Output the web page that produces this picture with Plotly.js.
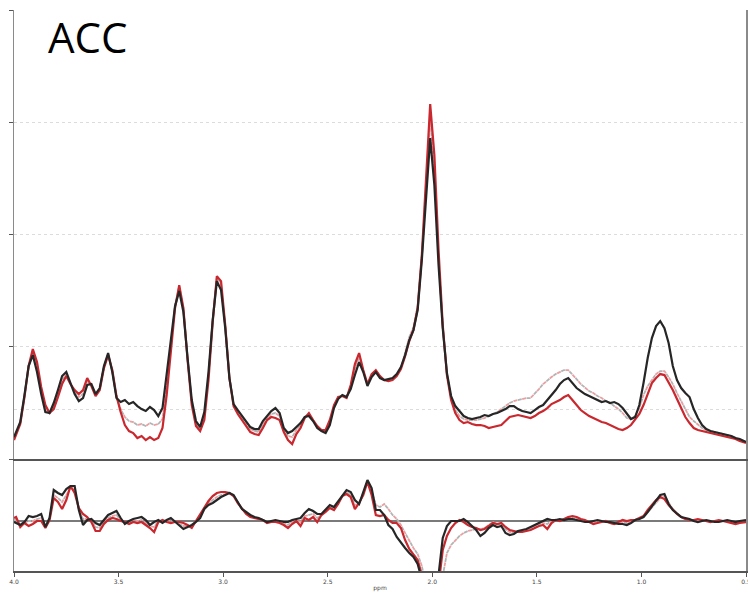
<!DOCTYPE html>
<html>
<head>
<meta charset="utf-8">
<script src="https://cdn.plot.ly/plotly-3.0.1.min.js"></script>
<style>html,body{margin:0;padding:0;background:#fff;}#chart{width:748px;height:597px;}</style>
</head>
<body>
<div id="chart"></div>
<script>
// chemical shift axis (ppm)
var ppm = [4.00,
3.99,3.97,3.95,3.93,3.91,3.89,3.87,3.85,3.83,3.81,
3.79,3.77,3.75,3.73,3.71,3.69,3.67,3.65,3.63,3.61,
3.59,3.57,3.55,3.53,3.51,3.49,3.47,3.45,3.43,3.41,
3.39,3.37,3.35,3.33,3.31,3.29,3.27,3.25,3.23,3.21,
3.19,3.17,3.15,3.13,3.11,3.09,3.07,3.05,3.03,3.01,
2.99,2.97,2.95,2.93,2.91,2.89,2.87,2.85,2.83,2.81,
2.79,2.77,2.75,2.73,2.71,2.69,2.67,2.65,2.63,2.61,
2.59,2.57,2.55,2.53,2.51,2.49,2.47,2.45,2.43,2.41,
2.39,2.37,2.35,2.33,2.31,2.29,2.27,2.25,2.23,2.21,
2.19,2.17,2.15,2.13,2.11,2.09,2.07,2.05,2.03,2.01,
1.99,1.97,1.95,1.93,1.91,1.89,1.87,1.85,1.83,1.81,
1.79,1.77,1.75,1.73,1.71,1.69,1.67,1.65,1.63,1.61,
1.59,1.57,1.55,1.53,1.51,1.49,1.47,1.45,1.43,1.41,
1.39,1.37,1.35,1.33,1.31,1.29,1.27,1.25,1.23,1.21,
1.19,1.17,1.15,1.13,1.11,1.09,1.07,1.05,1.03,1.01,
0.99,0.97,0.95,0.93,0.91,0.89,0.87,0.85,0.83,0.81,
0.79,0.77,0.75,0.73,0.71,0.69,0.67,0.65,0.63,0.61,
0.59,0.57,0.55,0.53,0.51,
0.50];

// upper panel: spectra (a.u.)
var specBlack = [22,
27,37,64,93,104,87,65,47,46,56,
69,83,87,75,65,58,61,74,75,65,
71,93,106,87,61,57,59,55,57,53,
50,48,52,49,43,51,86,119,153,168,
147,101,59,38,32,47,87,139,178,169,
131,81,55,49,43,37,32,30,30,38,
43,48,51,46,31,26,28,32,36,42,
43,38,31,28,26,34,51,60,64,62,
70,84,97,87,73,82,87,81,79,80,
81,85,92,104,119,129,149,199,264,321,
274,194,131,86,63,53,48,43,41,40,
41,42,44,43,45,46,48,50,53,53,
50,48,47,46,49,52,54,59,63,69,
75,79,81,76,71,68,65,63,61,59,
57,58,56,57,55,51,45,40,42,54,
76,101,121,133,138,131,116,93,79,71,
66,62,50,41,34,30,28,27,26,25,
24,23,21,20,18,
17];

var specRed = [19,
25,35,62,93,110,97,72,54,46,50,
62,75,83,75,69,65,69,81,73,63,
69,91,104,89,63,47,34,28,26,21,
23,19,22,19,21,31,64,109,151,174,
151,99,54,33,28,39,79,137,183,178,
134,81,53,45,39,34,27,25,24,31,
39,42,41,39,27,19,15,25,31,41,
46,39,33,29,29,39,54,62,63,61,
74,95,106,89,75,85,89,83,79,78,
79,83,90,103,118,129,151,204,279,355,
304,209,134,84,59,46,39,36,37,35,
34,34,33,31,32,33,34,38,42,43,
44,43,42,41,43,46,48,51,55,57,
59,62,64,59,54,49,46,43,41,39,
37,36,34,32,30,29,31,34,39,45,
54,66,76,81,85,84,77,69,60,51,
42,36,31,29,28,27,26,25,24,23,
22,21,20,18,17,
16];

var specMean = [20,
26,36,63,93,107,92,69,51,46,53,
66,79,85,75,67,62,65,78,74,64,
70,92,105,88,62,50,42,38,37,34,
35,33,36,34,35,40,74,115,153,173,
150,100,56,35,30,43,83,139,182,175,
133,81,54,47,41,36,30,28,27,35,
41,45,46,43,29,23,22,29,34,42,
45,39,32,29,28,37,53,61,64,62,
72,90,102,88,74,84,88,82,79,79,
80,84,91,106,122,132,153,204,272,340,
290,200,132,85,61,49,43,40,39,39,
39,40,41,43,45,47,50,53,56,58,
59,60,61,61,65,70,75,79,82,85,
87,89,89,85,80,75,71,68,66,63,
61,58,56,53,50,46,41,40,43,51,
64,73,79,85,88,88,82,75,66,58,
49,42,38,34,31,29,28,27,26,25,
24,23,21,19,18,
17];

// lower panel: difference spectra (a.u.)
var diffBlack = [-1,
-2,-4,-1,5,4,5,7,-6,3,31,
28,26,32,35,35,11,-4,1,2,-2,
-4,1,6,8,10,3,-3,0,2,3,
4,1,-4,-1,1,-2,1,3,-1,-5,
-8,-6,-4,-1,3,12,16,18,21,24,
26,28,26,19,12,9,6,4,3,1,
-1,0,1,0,-1,-1,1,2,3,8,
12,10,7,7,11,16,14,20,26,31,
29,21,17,30,41,33,11,11,6,-4,
-8,-16,-22,-27,-32,-36,-43,-59,-79,-89,
-79,-54,-17,-5,0,0,0,2,-1,-5,
-9,-15,-12,-7,-4,-6,-5,-12,-14,-13,
-10,-9,-8,-6,-4,-2,0,2,1,1,
2,1,2,2,1,0,-1,-1,0,1,
0,-1,-1,-2,-3,-3,-4,-2,1,2,
4,9,15,20,26,27,17,11,7,4,
3,2,0,-1,0,1,0,-1,-1,0,
1,0,-1,0,1,
1];

var diffRed = [3,
4,-6,-2,-5,-3,0,0,-7,1,23,
19,12,21,35,28,13,7,4,-1,-10,
-10,-3,1,3,2,0,-1,-3,-1,-2,
-1,-4,-7,-11,-1,1,-1,-2,-1,-1,
-2,-4,-7,0,7,13,20,25,28,29,
29,28,25,18,12,7,4,3,2,1,
-2,-1,-1,-2,-4,-7,-3,0,-5,3,
1,4,-1,6,9,13,11,17,25,27,
24,12,18,26,39,26,6,5,6,1,
-2,-2,-7,-19,-28,-34,-39,-54,-74,-89,
-79,-64,-29,-15,-7,-2,1,-1,-4,-6,
-7,-9,-8,-5,-2,-3,-2,-6,-9,-10,
-11,-11,-10,-9,-7,-5,-4,-8,-2,1,
0,2,4,5,4,2,1,-1,-3,-2,
-1,0,-2,-3,-1,1,0,1,1,3,
5,11,16,21,24,22,16,11,7,4,
2,1,1,2,1,0,-1,0,1,0,
-1,-2,-3,-2,-1,
-1];

var diffMean = [1,
1,-5,-2,0,0,2,3,-6,2,26,
23,19,26,33,31,12,2,2,0,-6,
-7,-1,3,5,6,1,-2,-1,0,0,
1,-2,-5,-6,0,0,0,0,-1,-3,
-5,-5,-5,0,5,12,18,21,24,26,
27,28,25,19,12,8,5,3,2,1,
-1,0,0,-1,-2,-4,-1,1,-1,5,
6,7,3,6,10,14,12,18,25,29,
26,16,17,28,40,30,16,14,17,12,
6,2,-4,-12,-20,-27,-33,-45,-65,-85,
-85,-75,-55,-32,-24,-19,-15,-12,-10,-9,
-8,-8,-7,-4,-1,-3,-3,-8,-11,-11,
-10,-10,-9,-7,-5,-3,-2,-3,0,1,
1,2,3,3,2,1,0,-1,-2,0,
0,-1,-2,-3,-2,-1,-2,0,1,2,
4,9,14,19,23,25,18,12,8,4,
2,1,0,0,0,0,0,0,0,0,
0,-1,-2,-1,0,
0];

var xTickVals = [4.0,3.5,3.0,2.5,2.0,1.5,1.0,0.5];
var xTickText = ['4.0','3.5','3.0','2.5','2.0','1.5','1.0','0.5'];
var topTickVals = [112.3,224.6,336.9,449.2];

var RED = '#c8282e', BLACK = '#262626', PINK = '#e8a0a3', GREY = '#b3b3b3';

function tr(y, xa, ya, color, width, dash) {
  return {x: ppm, y: y, xaxis: xa, yaxis: ya, type: 'scatter', mode: 'lines',
    line: {color: color, width: width, dash: dash || 'solid'}, hoverinfo: 'skip', showlegend: false};
}

var data = [
  tr(specMean, 'x2', 'y', GREY, 1.8, '4px,5px'),
  tr(specMean, 'x2', 'y', PINK, 1.8, '0px,4.5px,4px,0.5px'),
  tr(specRed, 'x2', 'y', RED, 2.2),
  tr(specBlack, 'x2', 'y', BLACK, 2.2),
  tr(diffMean, 'x', 'y2', GREY, 1.8, '4px,5px'),
  tr(diffMean, 'x', 'y2', PINK, 1.8, '0px,4.5px,4px,0.5px'),
  tr(diffRed, 'x', 'y2', RED, 2.2),
  tr(diffBlack, 'x', 'y2', BLACK, 2.2)
];

var split = 0.1996;
var layout = {
  width: 748, height: 597,
  margin: {l: 14, r: 2, t: 10, b: 26, pad: 0},
  paper_bgcolor: '#fff', plot_bgcolor: '#fff',
  showlegend: false,
  font: {family: 'DejaVu Sans, sans-serif', color: '#333'},
  xaxis: {
    anchor: 'y2', range: [4.0, 0.5], tickmode: 'array', tickvals: xTickVals, ticktext: xTickText,
    ticks: 'outside', ticklen: 4, tickwidth: 1, tickcolor: '#555',
    tickfont: {size: 6, color: '#444'}, ticklabeloverflow: 'allow',
    showline: true, linecolor: '#555', linewidth: 1.5, showgrid: false, zeroline: false,
    title: {text: 'ppm', font: {size: 6, color: '#444'}, standoff: 2}
  },
  xaxis2: {
    anchor: 'y', matches: 'x', range: [4.0, 0.5], showticklabels: false, ticks: '',
    showline: true, linecolor: '#555', linewidth: 1.5, showgrid: false, zeroline: false
  },
  yaxis: {
    domain: [split, 1], range: [0, 449.2], tickmode: 'array', tickvals: topTickVals,
    showticklabels: false, ticks: 'outside', ticklen: 4, tickcolor: '#555',
    showline: true, linecolor: '#8a8a8a', linewidth: 1.5, mirror: true,
    showgrid: true, gridcolor: '#dcdcdc', gridwidth: 1, griddash: '3px,3px', zeroline: false,
    minor: {tickmode: 'array', tickvals: [50], showgrid: true, gridcolor: '#dcdcdc', griddash: '3px,3px', ticks: ''}
  },
  yaxis2: {
    domain: [0, split], range: [-50, 62], tickmode: 'array', tickvals: [62],
    showticklabels: false, ticks: 'outside', ticklen: 4, tickcolor: '#555',
    showline: true, linecolor: '#8a8a8a', linewidth: 1.5, mirror: true,
    showgrid: false, zeroline: true, zerolinecolor: '#7a7a7a', zerolinewidth: 1.5
  },
  annotations: [{
    xref: 'paper', yref: 'paper', x: 0.044, y: 0.952, xanchor: 'left', yanchor: 'middle',
    text: 'ACC', showarrow: false, font: {family: 'Open Sans, sans-serif', size: 42, color: '#000'}
  }]
};

Plotly.newPlot('chart', data, layout, {staticPlot: true, displayModeBar: false});
</script>
</body>
</html>
